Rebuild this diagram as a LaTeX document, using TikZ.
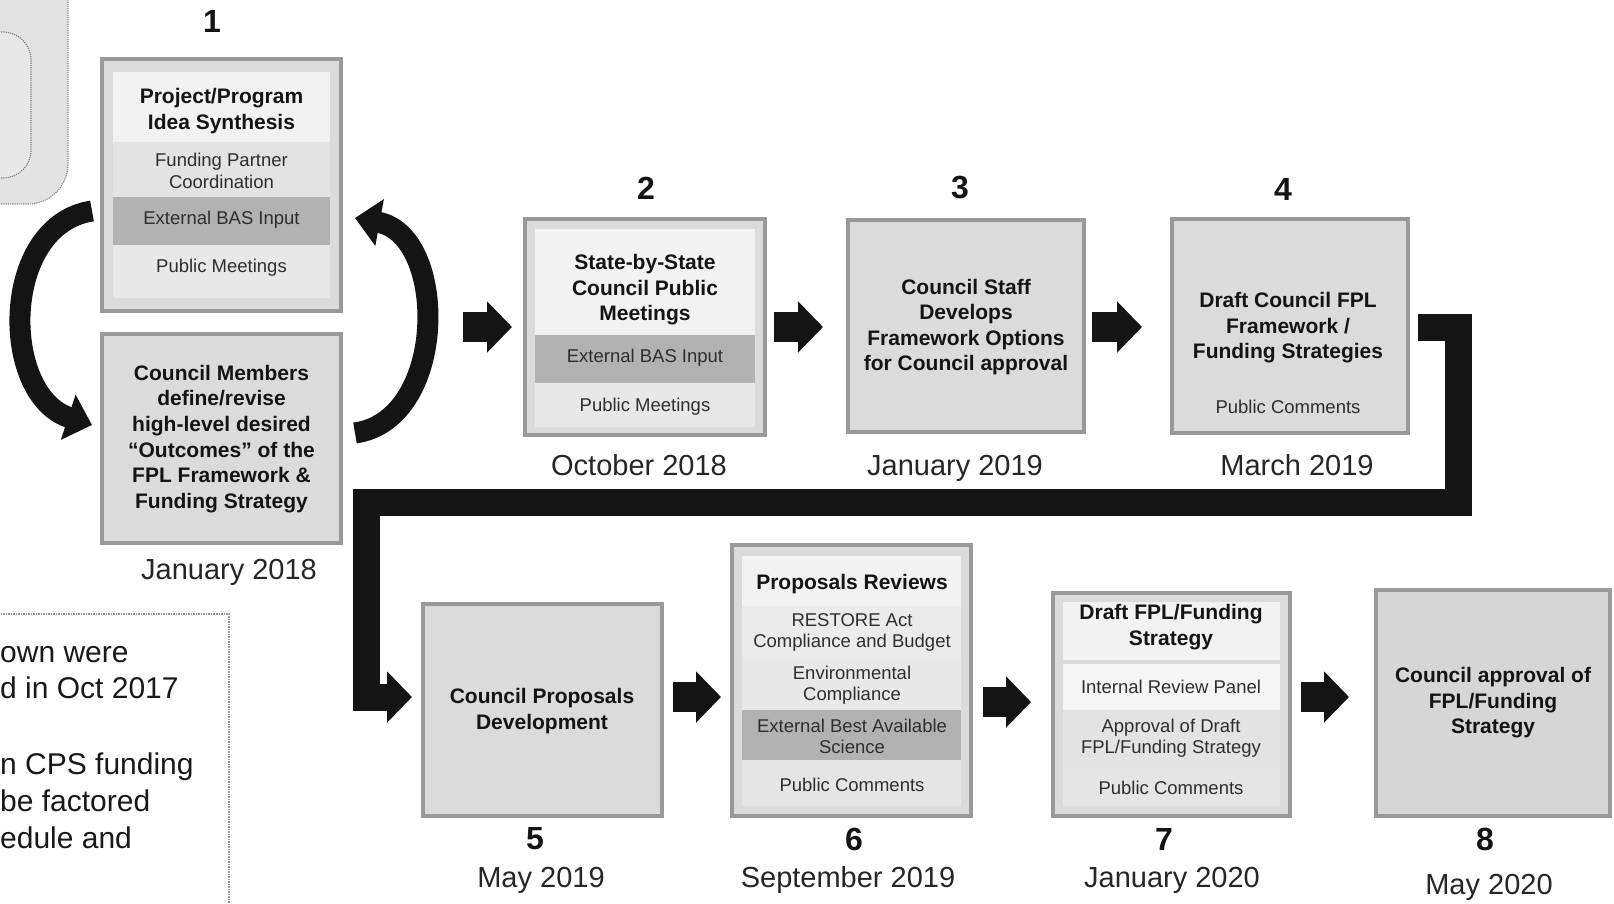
\documentclass[tikz,border=0pt]{standalone}
\usepackage{fontspec}
\setmainfont{Liberation Sans}
\usetikzlibrary{arrows.meta,calc}
\newcommand{\fsz}[2]{\fontsize{#1}{#2}\selectfont}
\begin{document}
\begin{tikzpicture}[x=1pt,y=-1pt,
  stepbox/.style={draw=black!40, line width=4pt, fill=black!14, inner sep=0pt, outer sep=0pt},
  lightband/.style={fill=black!5},
  midband/.style={fill=black!11},
  darkband/.style={fill=black!30},
  ttl/.style={font=\bfseries\fsz{21}{25.6}, align=center, text=black!92, inner sep=0pt},
  sub/.style={font=\fsz{18.5}{21.5}, align=center, text=black!82, inner sep=0pt},
  num/.style={font=\bfseries\fsz{32}{36}, text=black!92, inner sep=0pt},
  datelbl/.style={font=\fsz{29}{33}, text=black!85, inner sep=0pt, anchor=base},
  notetxt/.style={font=\fsz{30}{36}, text=black!90, inner sep=0pt, anchor=base west},
  blockarrow/.style={line width=30pt, black!92, -{Triangle[width=50pt,length=25pt]}},
  curvearrow/.style={line width=21pt, black!92, -{Triangle[width=46pt,length=25pt]}},
  elbow/.style={line width=27pt, black!92, line join=miter, -{Triangle[width=50pt,length=25pt]}}
]
\useasboundingbox (0,0) rectangle (1614,903);
\clip (0,0) rectangle (1614,903);
\fill[white] (0,0) rectangle (1614,903);

% top-left partial rounded shape
\draw[black!45, line width=1.2pt, densely dotted, fill=black!11, rounded corners=40pt] (-80,-80) rectangle (68,204);
\draw[black!50, line width=1.2pt, densely dotted, fill=black!9, rounded corners=28pt] (-80,32) rectangle (31,178);

% note box (bottom left)
\draw[black!40, line width=1.5pt, densely dotted, fill=white] (-10,614) rectangle (229,930);
\node[notetxt] (n1) at (0,662) {own were};
\node[notetxt] (n2) at (0,698) {d in Oct 2017};
\node[notetxt] (n3) at (0,774) {n CPS funding};
\node[notetxt] (n4) at (0,811) {be factored};
\node[notetxt] (n5) at (0,848) {edule and};

% ---------- boxes ----------
\node[stepbox, minimum width=239, minimum height=252] (b1) at (221.5,185) {};
\node[stepbox, minimum width=239, minimum height=209] (b1b) at (221.5,438.5) {};
\node[stepbox, minimum width=240, minimum height=216] (b2) at (645,327) {};
\node[stepbox, minimum width=236, minimum height=212] (b3) at (966,326) {};
\node[stepbox, minimum width=236, minimum height=214] (b4) at (1290,326) {};
\node[stepbox, minimum width=239, minimum height=212] (b5) at (542.5,710) {};
\node[stepbox, minimum width=239, minimum height=271] (b6) at (851.5,680.5) {};
\node[stepbox, minimum width=237, minimum height=223] (b7) at (1171.5,704.5) {};
\node[stepbox, minimum width=234, minimum height=226, fill=black!16] (b8) at (1493,703) {};

% bands box 1
\fill[lightband] (113,72) rectangle (330,142);
\fill[midband] (113,142) rectangle (330,197);
\fill[darkband] (113,197) rectangle (330,245);
\fill[fill=black!9] (113,245) rectangle (330,298);
% bands box 2
\fill[lightband] (535,229) rectangle (755,335);
\fill[darkband] (535,335) rectangle (755,383);
\fill[fill=black!9] (535,383) rectangle (755,427);
% bands box 6
\fill[lightband] (742,556) rectangle (961,606);
\fill[fill=black!8] (742,606) rectangle (961,659);
\fill[fill=black!9] (742,659) rectangle (961,710);
\fill[darkband] (742,710) rectangle (961,760);
\fill[fill=black!10] (742,760) rectangle (961,806);
% bands box 7
\fill[lightband] (1063,602) rectangle (1280,660);
\fill[fill=black!4] (1063,664) rectangle (1280,710);
\fill[midband] (1063,710) rectangle (1280,768);
\fill[fill=black!10] (1063,768) rectangle (1280,806);

% ---------- texts ----------
\node[ttl] (t1) at (221.5,111) {Project/Program\\Idea Synthesis};
\node[sub] (t1a) at (221.5,171) {Funding Partner\\Coordination};
\node[sub] (t1b) at (221.5,220) {External BAS Input};
\node[sub] (t1c) at (221.5,268) {Public Meetings};
\node[ttl] (t1d) at (221.5,439) {Council Members\\define/revise\\high-level desired\\“Outcomes” of the\\FPL Framework \&\\Funding Strategy};

\node[ttl] (t2) at (645,290) {State-by-State\\Council Public\\Meetings};
\node[sub] (t2a) at (645,358) {External BAS Input};
\node[sub] (t2b) at (645,407) {Public Meetings};

\node[ttl] (t3) at (966,327) {Council Staff\\Develops\\Framework Options\\for Council approval};

\node[ttl] (t4) at (1288,328) {Draft Council FPL\\Framework /\\Funding Strategies};
\node[sub] (t4a) at (1288,407) {Public Comments};

\node[ttl] (t5) at (542,711) {Council Proposals\\Development};

\node[ttl] (t6) at (852,584) {Proposals Reviews};
\node[sub] (t6a) at (852,632.5) {RESTORE Act\\Compliance and Budget};
\node[sub] (t6b) at (852,685) {Environmental\\Compliance};
\node[sub] (t6c) at (852,736.5) {External Best Available\\Science};
\node[sub] (t6d) at (852,785) {Public Comments};

\node[ttl] (t7) at (1171,627) {Draft FPL/Funding\\Strategy};
\node[sub] (t7a) at (1171,687) {Internal Review Panel};
\node[sub] (t7b) at (1171,738) {Approval of Draft\\FPL/Funding Strategy};
\node[sub] (t7c) at (1171,788) {Public Comments};

\node[ttl] (t8) at (1493,703) {Council approval of\\FPL/Funding\\Strategy};

% ---------- numbers ----------
\node[num] (k1) at (212,21) {1};
\node[num] (k2) at (646,188) {2};
\node[num] (k3) at (960,188) {3};
\node[num] (k4) at (1283,189) {4};
\node[num] (k5) at (535,839) {5};
\node[num] (k6) at (854,839) {6};
\node[num] (k7) at (1164,839) {7};
\node[num] (k8) at (1485,839) {8};

% ---------- dates ----------
\node[datelbl] (d1) at (229,579) {January 2018};
\node[datelbl] (d2) at (639,475) {October 2018};
\node[datelbl] (d3) at (955,475) {January 2019};
\node[datelbl] (d4) at (1297,475) {March 2019};
\node[datelbl] (d5) at (541,887) {May 2019};
\node[datelbl] (d6) at (848,887) {September 2019};
\node[datelbl] (d7) at (1172,887) {January 2020};
\node[datelbl] (d8) at (1489,894) {May 2020};

% ---------- block arrows ----------
\coordinate (a1s) at (463,327);  \coordinate (a1e) at (512,327);
\coordinate (a2s) at (774,327);  \coordinate (a2e) at (823,327);
\coordinate (a3s) at (1092,327); \coordinate (a3e) at (1142,327);
\coordinate (a4s) at (673,697);  \coordinate (a4e) at (721,697);
\coordinate (a5s) at (983,702);  \coordinate (a5e) at (1031,702);
\coordinate (a6s) at (1301,697); \coordinate (a6e) at (1349,697);
\draw[blockarrow] (a1s) -- (a1e);
\draw[blockarrow] (a2s) -- (a2e);
\draw[blockarrow] (a3s) -- (a3e);
\draw[blockarrow] (a4s) -- (a4e);
\draw[blockarrow] (a5s) -- (a5e);
\draw[blockarrow] (a6s) -- (a6e);

% ---------- curved arrows around step 1 ----------
\coordinate (la1) at (92,211);  \coordinate (la2) at (92,425);
\coordinate (ra1) at (355,433); \coordinate (ra2) at (355,218);
\draw[curvearrow] (la1) .. controls (0,225) and (0,395) .. (la2);
\draw[curvearrow] (ra1) .. controls (448,420) and (448,235) .. (ra2);

% ---------- elbow connector from step 4 to step 5 ----------
\coordinate (e0) at ($(b4.east)+(10,1)$);
\coordinate (ec2) at (1458.5,502);
\coordinate (ec3) at (366,502);
\coordinate (e3) at (412,697);
\draw[elbow] (e0) -| (ec2) -- (ec3) |- (e3);
\end{tikzpicture}
\end{document}
